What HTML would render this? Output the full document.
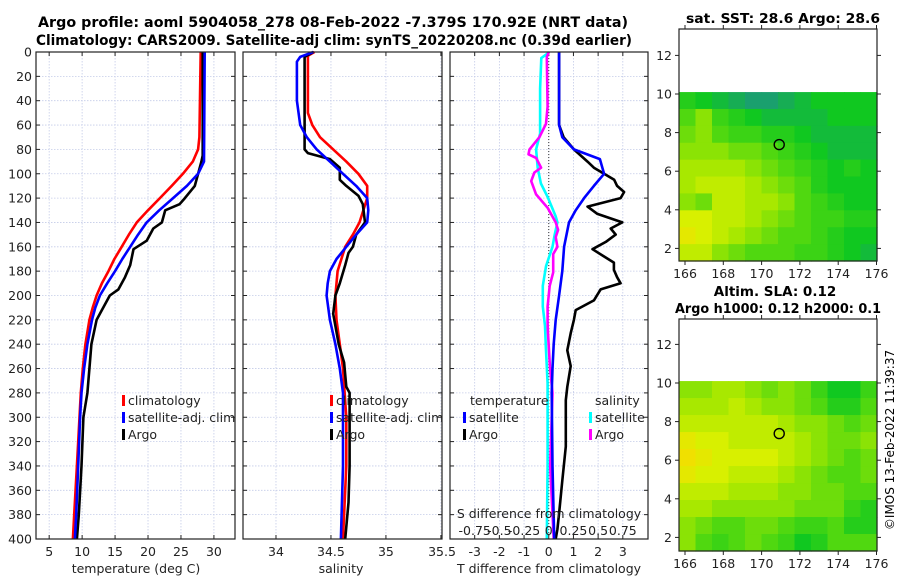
<!DOCTYPE html>
<html><head><meta charset="utf-8"><style>
html,body{margin:0;padding:0;background:#fff;width:900px;height:580px;overflow:hidden}
svg{display:block;font-family:"DejaVu Sans","Liberation Sans",sans-serif}
</style></head><body>
<svg id="chart" width="900" height="580" viewBox="0 0 900 580">
<text x="333" y="27" font-size="14" font-weight="bold" text-anchor="middle" textLength="590" lengthAdjust="spacingAndGlyphs">Argo profile: aoml 5904058_278 08-Feb-2022 -7.379S 170.92E (NRT data)</text>
<text x="334" y="45" font-size="14" font-weight="bold" text-anchor="middle" textLength="596" lengthAdjust="spacingAndGlyphs">Climatology: CARS2009. Satellite-adj clim: synTS_20220208.nc (0.39d earlier)</text>
<text x="783" y="23" font-size="13.5" font-weight="bold" text-anchor="middle" textLength="194" lengthAdjust="spacingAndGlyphs">sat. SST: 28.6 Argo: 28.6</text>
<text x="775" y="296" font-size="13.5" font-weight="bold" text-anchor="middle">Altim. SLA: 0.12</text>
<text x="778" y="313" font-size="13.5" font-weight="bold" text-anchor="middle" textLength="206" lengthAdjust="spacingAndGlyphs">Argo h1000: 0.12 h2000: 0.1</text>
<text transform="translate(894,440) rotate(-90)" font-size="12" text-anchor="middle">©IMOS 13-Feb-2022 11:39:37</text>
</svg>
<script>
// ---------- data ----------
const tClimDepth=[0,70,80,90,100,110,120,130,140,150,160,170,180,190,200,210,220,240,260,280,300,340,380,400];
const tClim=[28.0,27.8,27.6,26.8,25.3,23.6,21.8,20.0,18.3,17.1,16.0,14.9,14.0,13.0,12.2,11.6,11.1,10.5,10.1,9.8,9.6,9.2,8.8,8.6];
const tSatDepth=[0,90,100,110,120,130,140,150,160,170,180,190,200,210,220,240,260,280,300,340,380,400];
const tSat=[28.6,28.5,27.6,25.9,23.8,21.7,19.8,18.5,17.3,16.1,15.0,13.8,12.7,12.0,11.5,10.8,10.3,9.9,9.7,9.4,9.1,8.9];
const tArgoDepth=[0,85,90,100,110,120,125,130,140,145,155,162,175,185,195,200,215,220,240,260,280,290,300,340,380,400];
const tArgo=[28.3,28.3,28.1,27.6,27.1,25.6,24.8,22.6,22.1,20.8,19.8,17.8,17.3,16.5,15.5,14.2,12.7,12.2,11.4,11.1,10.8,10.5,10.2,9.9,9.5,9.2];

const sClimDepth=[0,3,50,60,70,80,90,100,110,120,140,150,160,180,200,220,240,260,300,340,400];
const sClim=[34.35,34.29,34.29,34.33,34.40,34.52,34.64,34.75,34.83,34.83,34.76,34.70,34.63,34.56,34.54,34.55,34.58,34.61,34.64,34.64,34.61];
const sSatDepth=[0,4,8,40,60,70,80,90,100,110,120,130,140,150,160,170,180,190,200,220,240,260,280,340,400];
const sSat=[34.34,34.22,34.19,34.19,34.22,34.28,34.37,34.49,34.61,34.73,34.83,34.84,34.83,34.73,34.64,34.55,34.49,34.47,34.46,34.49,34.54,34.58,34.61,34.61,34.59];
const sArgoDepth=[0,4,80,83,88,95,105,110,118,125,140,150,160,165,175,190,200,215,240,255,275,280,300,340,370,400];
const sArgo=[34.34,34.26,34.26,34.29,34.49,34.58,34.58,34.64,34.75,34.79,34.81,34.73,34.70,34.66,34.63,34.58,34.54,34.52,34.57,34.62,34.64,34.67,34.67,34.67,34.66,34.63];

const dTSatDepth=[0,60,70,80,88,100,110,120,130,140,160,180,200,220,240,260,280,340,400];
const dTSat=[0.42,0.42,0.55,1.02,2.07,2.24,1.83,1.43,1.09,0.82,0.62,0.55,0.42,0.28,0.2,0.15,0.12,0.15,0.22];
const dTArgoDepth=[0,60,70,80,90,95,100,105,110,115,120,127,133,140,145,150,156,162,168,173,179,185,190,195,204,212,220,231,245,258,275,286,324,352,379,392,400];
const dTArgo=[0.42,0.42,0.6,1.02,1.57,1.83,2.24,2.65,2.77,3.05,2.91,1.57,1.97,2.98,2.51,2.71,2.31,1.77,2.24,2.64,2.64,2.77,2.91,2.1,1.83,1.09,1.02,0.89,0.75,0.89,0.75,0.69,0.69,0.55,0.42,0.35,0.28];
// salinity differences in S units (axis: 1 T unit = 0.25 S)
const dSArgoDepth=[0,4,45,59,70,80,84,87,95,99,106,117,128,140,146,152,160,166,181,192,209,223,231,258,280,340,400];
const dSArgo=[0.0,-0.02,-0.012,-0.028,-0.095,-0.195,-0.205,-0.128,-0.078,-0.145,-0.178,-0.128,-0.012,0.07,0.095,0.07,0.088,0.045,0.045,0.01,-0.012,-0.012,-0.008,0.012,0.038,0.015,0.05];
const dSSatDepth=[0,1,5,30,67,80,95,108,119,135,140,150,160,172,176,192,209,225,245,272,340,400];
const dSSat=[0.002,-0.008,-0.075,-0.088,-0.088,-0.128,-0.112,-0.08,-0.012,0.07,0.088,0.06,0.038,-0.012,-0.028,-0.06,-0.06,-0.038,-0.028,-0.012,-0.012,-0.02];

const sstGrid=[
[0.40,0.35,0.30,0.25,0.20,0.20,0.25,0.30,0.35,0.35,0.35,0.35],
[0.50,0.60,0.45,0.40,0.35,0.30,0.30,0.30,0.30,0.35,0.35,0.35],
[0.55,0.60,0.50,0.45,0.45,0.40,0.40,0.35,0.30,0.30,0.30,0.30],
[0.60,0.60,0.60,0.55,0.55,0.50,0.45,0.40,0.35,0.30,0.30,0.30],
[0.65,0.65,0.65,0.65,0.60,0.55,0.50,0.45,0.40,0.35,0.40,0.35],
[0.65,0.70,0.70,0.70,0.65,0.60,0.55,0.50,0.40,0.35,0.35,0.35],
[0.60,0.55,0.70,0.70,0.65,0.65,0.60,0.50,0.45,0.40,0.35,0.35],
[0.75,0.75,0.70,0.70,0.65,0.60,0.55,0.50,0.45,0.45,0.40,0.40],
[0.80,0.75,0.70,0.65,0.60,0.55,0.50,0.50,0.45,0.40,0.35,0.35],
[0.70,0.70,0.60,0.55,0.50,0.50,0.50,0.45,0.45,0.40,0.35,0.30]];
const slaGrid=[
[0.60,0.60,0.65,0.65,0.60,0.55,0.60,0.55,0.45,0.35,0.35,0.45],
[0.65,0.65,0.65,0.70,0.65,0.60,0.60,0.55,0.50,0.40,0.40,0.50],
[0.70,0.70,0.70,0.70,0.70,0.70,0.65,0.60,0.60,0.55,0.50,0.55],
[0.80,0.75,0.75,0.70,0.70,0.70,0.70,0.65,0.60,0.55,0.55,0.60],
[0.85,0.80,0.75,0.75,0.75,0.75,0.70,0.65,0.60,0.55,0.50,0.55],
[0.80,0.75,0.75,0.70,0.70,0.70,0.65,0.60,0.55,0.50,0.50,0.55],
[0.70,0.70,0.70,0.65,0.65,0.65,0.60,0.60,0.55,0.55,0.50,0.50],
[0.65,0.65,0.60,0.60,0.60,0.60,0.60,0.55,0.55,0.55,0.45,0.40],
[0.60,0.55,0.50,0.50,0.55,0.55,0.50,0.45,0.45,0.50,0.40,0.40],
[0.60,0.50,0.45,0.50,0.55,0.50,0.45,0.35,0.40,0.50,0.50,0.50]];
const depthTicks=[0,20,40,60,80,100,120,140,160,180,200,220,240,260,280,300,320,340,360,380,400];
const tTicks=[5,10,15,20,25,30];
const sTicks=[34,34.5,35];
const sTickLabels=["34","34.5","35"];
const dTTicks=[-3,-2,-1,0,1,2,3];
const dSTickLabels=["-0.75","-0.5","-0.25","0","0.25","0.5","0.75"];
const lonTicks=[166,168,170,172,174,176];
const latTicks=[2,4,6,8,10,12];
const argoLon=170.92, argoLat=7.38;

// ---------- drawing ----------
const NS="http://www.w3.org/2000/svg";
const svg=document.getElementById('chart');
function mk(tag,at,parent){const e=document.createElementNS(NS,tag);for(const k in at)e.setAttribute(k,at[k]);(parent||svg).appendChild(e);return e;}
const Y0=52,Y1=539;
const yD=d=>Y0+(d/400)*(Y1-Y0);

function panel(name,x0,x1,xmin,xmax){
  const sx=v=>x0+(v-xmin)/(xmax-xmin)*(x1-x0);
  const g=mk('g',{});
  
  
  return {g,sx,x0,x1};
}
function grid(p,xt,leftLabels){
  xt.forEach(v=>{const x=p.sx(v);
    const l=mk('line',{x1:x,x2:x,y1:Y0,y2:Y1,stroke:'#c4cbe8','stroke-width':0.8,'stroke-dasharray':'1.5,1.5'},p.g);
    
    mk('line',{x1:x,x2:x,y1:Y1,y2:Y1-4,stroke:'#222'},p.g);
    mk('line',{x1:x,x2:x,y1:Y0,y2:Y0+4,stroke:'#222'},p.g);
  });
  depthTicks.forEach(d=>{const y=yD(d);
    if(d>0&&d<400){const l=mk('line',{x1:p.x0,x2:p.x1,y1:y,y2:y,stroke:'#c4cbe8','stroke-width':0.8,'stroke-dasharray':'1.5,1.5'},p.g);
      }
    mk('line',{x1:p.x0,x2:p.x0+4,y1:y,y2:y,stroke:'#222'},p.g);
    mk('line',{x1:p.x1,x2:p.x1-4,y1:y,y2:y,stroke:'#222'},p.g);
    if(leftLabels){const t=mk('text',{x:p.x0-4,y:y+4.5,'font-size':12.5,'text-anchor':'end',fill:'#222'},p.g);t.textContent=d;
      }
  });
}
function frame(p){const r=mk('rect',{x:p.x0,y:Y0,width:p.x1-p.x0,height:Y1-Y0,fill:'none',stroke:'#222','stroke-width':1.2},p.g);
  }
function line(p,xs,ds,col,name,f){
  const pts=xs.map((v,i)=>p.sx(f?f(v):v).toFixed(1)+','+yD(ds[i]).toFixed(1)).join(' ');
  const l=mk('polyline',{points:pts,fill:'none',stroke:col,'stroke-width':2.6,'stroke-linejoin':'round'},p.g);
  
}
function txt(p,x,y,s,size,anchor,name){const t=mk('text',{x,y,'font-size':size||12.5,'text-anchor':anchor||'start',fill:'#222'},p.g);t.textContent=s;
  return t;}
function legend(p,x,y,col,label){
  const m=mk('rect',{x:x,y:y-10,width:3,height:11,fill:col},p.g);
  
  txt(p,x+6,y,label,12.5,'start','legend-entry');
}

// Panel 1: temperature
const p1=panel('temperature-panel',36,235,3,33.2);
grid(p1,tTicks,true);
line(p1,tClim,tClimDepth,'#f00','temp-climatology-line');
line(p1,tArgo,tArgoDepth,'#000','temp-argo-line');
line(p1,tSat,tSatDepth,'#00f','temp-satellite-line');
frame(p1);
tTicks.forEach(v=>txt(p1,p1.sx(v),556,v,12.5,'middle','x-tick-label'));
txt(p1,136,573,'temperature (deg C)',12.5,'middle','x-axis-title');
legend(p1,122,405,'#f00','climatology');legend(p1,122,422,'#00f','satellite-adj. clim');legend(p1,122,439,'#000','Argo');

// Panel 2: salinity
const p2=panel('salinity-panel',243,442,33.7,35.51);
grid(p2,sTicks.concat([35.5]),false);
line(p2,sClim,sClimDepth,'#f00','sal-climatology-line');
line(p2,sArgo,sArgoDepth,'#000','sal-argo-line');
line(p2,sSat,sSatDepth,'#00f','sal-satellite-line');
frame(p2);
sTicks.forEach((v,i)=>txt(p2,p2.sx(v),556,sTickLabels[i],12.5,'middle','x-tick-label'));
txt(p2,442,556,'35.5',12.5,'middle','x-tick-label');
txt(p2,341,573,'salinity',12.5,'middle','x-axis-title');
legend(p2,330,405,'#f00','climatology');legend(p2,330,422,'#00f','satellite-adj. clim');legend(p2,330,439,'#000','Argo');

// Panel 3: differences
const p3=panel('difference-panel',450,648,-4,4.02);
grid(p3,dTTicks,false);
const zl=mk('line',{x1:p3.sx(0),x2:p3.sx(0),y1:Y0,y2:Y1,stroke:'#333','stroke-width':1,'stroke-dasharray':'1,2'},p3.g);

const sToT=v=>v*4;
line(p3,dSSat,dSSatDepth,'#0ff','sal-diff-satellite-line',sToT);
line(p3,dSArgo,dSArgoDepth,'#f0f','sal-diff-argo-line',sToT);
line(p3,dTArgo,dTArgoDepth,'#000','temp-diff-argo-line');
line(p3,dTSat,dTSatDepth,'#00f','temp-diff-satellite-line');
frame(p3);
dTTicks.forEach(v=>txt(p3,p3.sx(v),556,v,12.5,'middle','x-tick-label'));
txt(p3,549,573,'T difference from climatology',12.5,'middle','x-axis-title');
txt(p3,549,518,'S difference from climatology',12.5,'middle','s-axis-title');
dTTicks.forEach((v,i)=>txt(p3,p3.sx(v),535,dSTickLabels[i],12.5,'middle','s-tick-label'));
txt(p3,470,405,'temperature',12.5,'start','legend-title');
txt(p3,595,405,'salinity',12.5,'start','legend-title');
legend(p3,463,422,'#00f','satellite');legend(p3,463,439,'#000','Argo');
legend(p3,589,422,'#0ff','satellite');legend(p3,589,439,'#f0f','Argo');

// Maps
const cmapStops=[[0.2,[26,160,110]],[0.35,[16,200,32]],[0.5,[80,216,16]],[0.65,[168,232,0]],[0.75,[216,240,0]],[0.85,[240,224,0]],[1,[240,160,0]]];
function cmap(v){for(let i=1;i<cmapStops.length;i++){if(v<=cmapStops[i][0]){const a=cmapStops[i-1],b=cmapStops[i];const t=Math.max(0,(v-a[0])/(b[0]-a[0]));
  return 'rgb('+a[1].map((c,k)=>Math.round(c+(b[1][k]-c)*t)).join(',')+')';}}return 'rgb(240,160,0)';}
function map(name,top,bottom,gridVals){
  const x0=679,x1=877;
  const sx=lon=>685+(lon-166)*19.15;
  const y10=top+(bottom===261?65:64);
  const sy=lat=>y10-(lat-10)*19.3;
  const g=mk('g',{});
  
  const dTop=sy(10.1), rows=gridVals.length, cols=gridVals[0].length;
  const cw=(x1-x0)/cols, ch=(bottom-dTop)/rows;
  gridVals.forEach((row,r)=>row.forEach((v,c)=>{
    const cell=mk('rect',{x:x0+c*cw,y:dTop+r*ch,width:cw+0.6,height:ch+0.6,fill:cmap(v)},g);
    
  }));
  const m=mk('circle',{cx:sx(argoLon),cy:sy(argoLat),r:5,fill:'none',stroke:'#000','stroke-width':1.4},g);
  
  const fr=mk('rect',{x:x0,y:top,width:x1-x0,height:bottom-top,fill:'none',stroke:'#222','stroke-width':1.2},g);
  
  lonTicks.forEach(l=>{const x=sx(l);mk('line',{x1:x,x2:x,y1:bottom,y2:bottom+4,stroke:'#222'},g);mk('line',{x1:x,x2:x,y1:top,y2:top-4,stroke:'#222'},g);
    const t=mk('text',{x:x,y:bottom+17,'font-size':12.5,'text-anchor':'middle',fill:'#222'},g);t.textContent=l;
    });
  latTicks.forEach(l=>{const y=sy(l);mk('line',{x1:x0,x2:x0-4,y1:y,y2:y,stroke:'#222'},g);mk('line',{x1:x1,x2:x1+4,y1:y,y2:y,stroke:'#222'},g);
    const t=mk('text',{x:x0-7,y:y+4.5,'font-size':12.5,'text-anchor':'end',fill:'#222'},g);t.textContent=l;
    });
}
map('sst-map',29,261,sstGrid);
map('sla-map',319,551,slaGrid);
</script>
</body></html>
